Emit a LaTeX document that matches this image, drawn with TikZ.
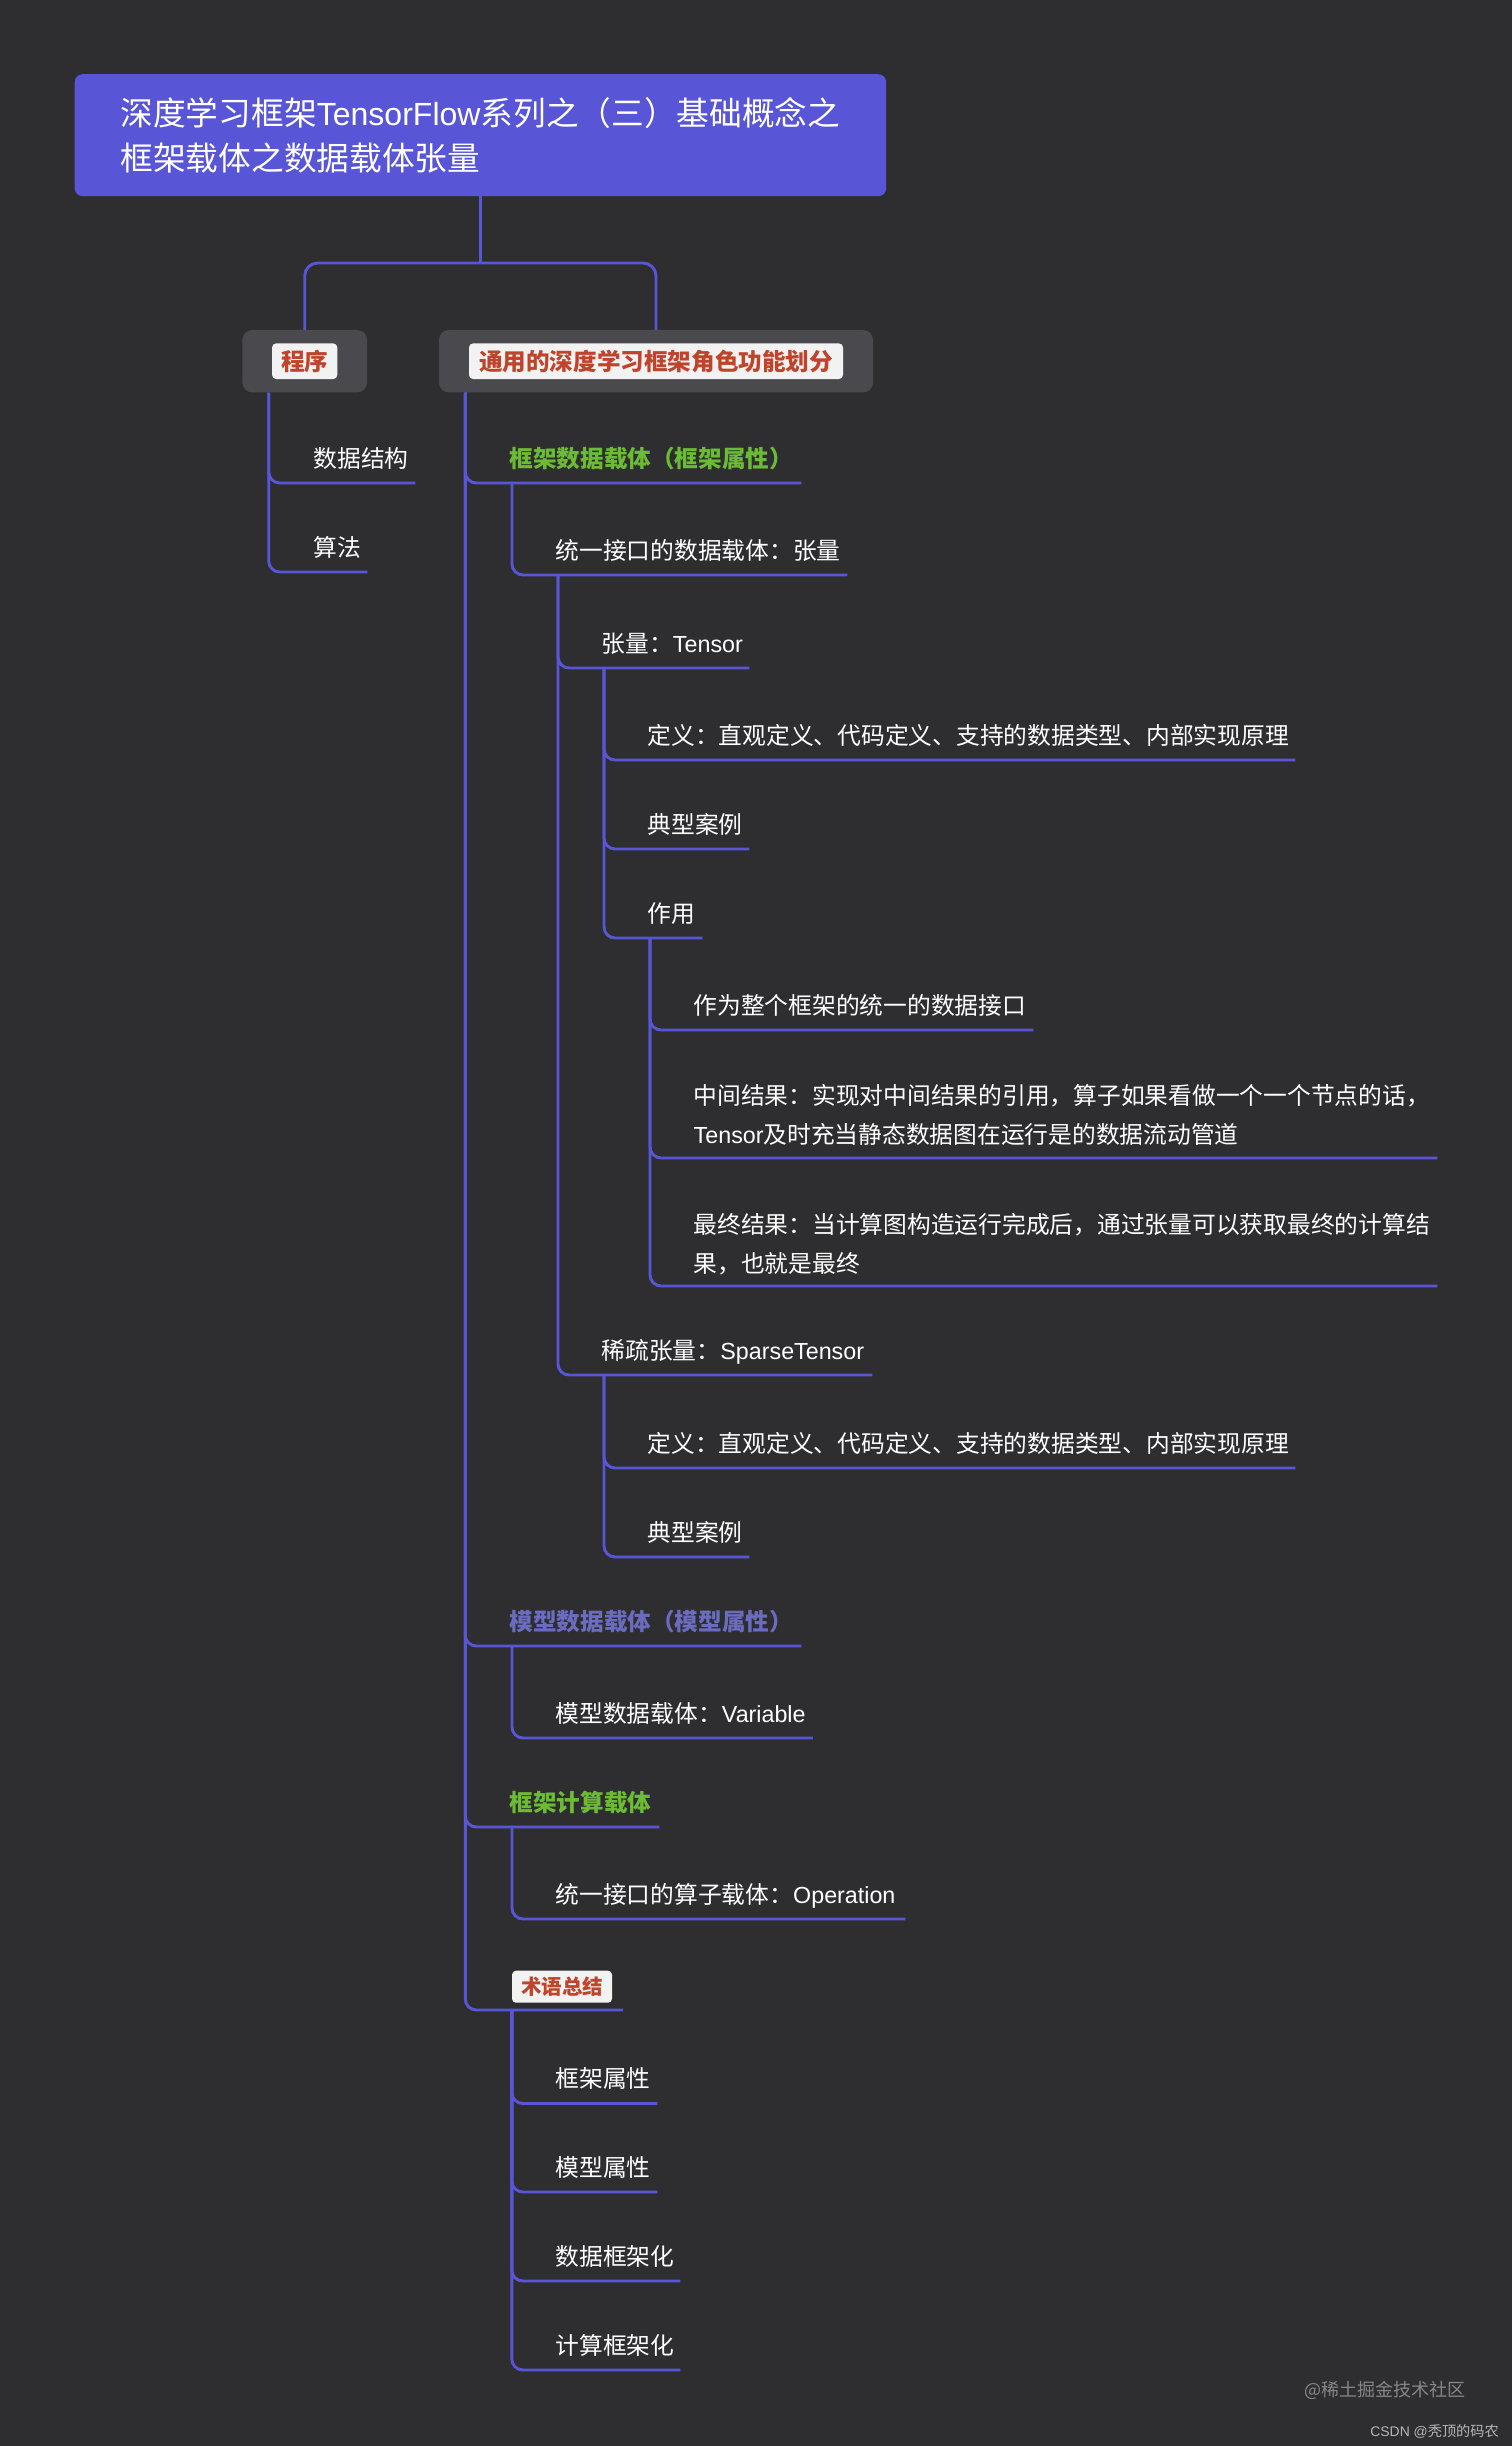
\documentclass[tikz,border=0pt]{standalone}
\usepackage{fontspec}
\setmainfont{Noto Sans CJK SC}
\newfontfamily\latinfont[Scale=0.98]{Liberation Sans}
\newcommand{\lat}[1]{{\latinfont #1}}
\definecolor{mapbg}{HTML}{2E2E30}
\definecolor{mapblue}{HTML}{5856D6}
\definecolor{mapgrey}{HTML}{4A4A4E}
\definecolor{mapred}{HTML}{C0432B}
\definecolor{mapgreen}{HTML}{6CBB35}
\definecolor{mappurple}{HTML}{6B6BC0}
\definecolor{maptag}{HTML}{F2F2F2}

\begin{document}
\begin{tikzpicture}[x=1pt,y=1pt,%
      branch/.style={draw=mapblue,line width=2.9pt,rounded corners=11pt},
      item/.style={anchor=south west,inner xsep=0pt,inner ysep=0pt,align=left,
        text=white,text height=20.8pt,text depth=2.8pt,minimum height=49pt,
        font=\fontsize{23.75}{38.5}\selectfont},
      twolines/.style={item,text height=,text depth=,text width=743.5pt},
      title/.style={anchor=north west,fill=mapblue,rounded corners=8pt,align=left,
        text=white,inner xsep=43pt,minimum width=811.5pt,minimum height=122pt,
        font=\fontsize{32.7}{44.5}\selectfont},
      topic/.style={fill=mapgrey,rounded corners=10pt,minimum height=62.5pt},
      tag/.style={fill=maptag,rounded corners=4pt,text=mapred,inner xsep=10pt,
        inner ysep=0pt,minimum height=35.6pt,font=\fontsize{23.6}{28}\selectfont\bfseries},
      sitemark/.style={anchor=east,inner sep=0pt}]
    \useasboundingbox (0,0) rectangle (1512,-2446);
    \fill[mapbg] (0,0) rectangle (1512,-2446);

    \node[title] (root) at (74.5,-74) {深度学习框架\lat{TensorFlow}系列之（三）基础概念之\\框架载体之数据载体张量};

    \node[topic,minimum width=124.6pt] (prog) at (304.7,-361.2) {};
    \node[tag,inner xsep=9pt] (progtag) at (prog.center) {程序};
    \node[topic,minimum width=434pt] (role) at (656,-361.2) {};
    \node[tag] (roletag) at (role.center) {通用的深度学习框架角色功能划分};

    \node[item,text width=101.5pt] (struct) at (313.5,-483) {数据结构};
    \node[item,text width=53.5pt] (algo) at (313.5,-572) {算法};

    \node[item,text width=291.5pt,text=mapgreen,font=\fontsize{23.6}{28}\selectfont\bfseries] (frame) at (509.5,-483) {框架数据载体（框架属性）};
    \node[item,text width=291.5pt] (unified) at (555.5,-575) {统一接口的数据载体：张量};
    \node[item,text width=147.5pt] (tensor) at (601.5,-668) {张量：\lat{Tensor}};
    \node[item,text width=647.5pt] (tdef) at (647.5,-760) {定义：直观定义、代码定义、支持的数据类型、内部实现原理};
    \node[item,text width=101.5pt] (tcase) at (647.5,-849) {典型案例};
    \node[item,text width=54.5pt] (tuse) at (647.5,-938) {作用};
    \node[item,text width=339.5pt] (iface) at (693.5,-1030) {作为整个框架的统一的数据接口};
    \node[twolines,minimum height=86pt] (middle) at (693.5,-1158) {中间结果：实现对中间结果的引用，算子如果看做一个一个节点的话，\\\lat{Tensor}及时充当静态数据图在运行是的数据流动管道};
    \node[twolines,minimum height=83pt] (final) at (693.5,-1286) {最终结果：当计算图构造运行完成后，通过张量可以获取最终的计算结\\果，也就是最终};
    \node[item,text width=270.5pt] (sparse) at (601.5,-1375) {稀疏张量：\lat{SparseTensor}};
    \node[item,text width=647.5pt] (sdef) at (647.5,-1468) {定义：直观定义、代码定义、支持的数据类型、内部实现原理};
    \node[item,text width=101.5pt] (scase) at (647.5,-1557) {典型案例};

    \node[item,text width=291.5pt,text=mappurple,font=\fontsize{23.6}{28}\selectfont\bfseries] (model) at (509.5,-1646) {模型数据载体（模型属性）};
    \node[item,text width=257pt] (variable) at (555.5,-1738) {模型数据载体：\lat{Variable}};
    \node[item,text width=149.5pt,text=mapgreen,font=\fontsize{23.6}{28}\selectfont\bfseries] (compute) at (509.5,-1827) {框架计算载体};
    \node[item,text width=349.5pt] (operation) at (555.5,-1919) {统一接口的算子载体：\lat{Operation}};

    \node[tag,inner xsep=9pt,minimum height=32pt,font=\fontsize{20.5}{24}\selectfont\bfseries] (terms) at (562,-1986.7) {术语总结};
    \coordinate (termsend) at (623,-2010);
    \coordinate (termsleft) at (terms.south west |- termsend);
    \node[item,text width=101.5pt] (fattr) at (555.5,-2103.5) {框架属性};
    \node[item,text width=101.5pt] (mattr) at (555.5,-2192) {模型属性};
    \node[item,text width=124.5pt] (dframe) at (555.5,-2281) {数据框架化};
    \node[item,text width=124.5pt] (cframe) at (555.5,-2370) {计算框架化};

    \node[sitemark,text=white!42!mapbg,font=\fontsize{18}{22}\selectfont] (juejin) at (1466,-2390.7) {@稀土掘金技术社区};
    \node[sitemark,text=white!65!mapbg,font=\fontsize{14.2}{18}\selectfont] (csdn) at (1499,-2431.7) {\lat{CSDN @}秃顶的码农};

    \coordinate (split) at (root.south |- 0,-263);
    \draw[branch] (root.south) -- (split);
    \draw[branch,rounded corners=13pt] (split) -| (prog.north);
    \draw[branch,rounded corners=13pt] (split) -| (role.north);

    \foreach \from/\to in {prog/struct,prog/algo,role/frame,role/model,role/compute}
      \draw[branch] ([xshift=26.5pt]\from.south west) |- (\to.south east);
    \draw[branch] ([xshift=26.5pt]role.south west) |- (termsend);

    \foreach \from/\to in {frame/unified,unified/tensor,unified/sparse,tensor/tdef,tensor/tcase,tensor/tuse,
        tuse/iface,tuse/middle,tuse/final,sparse/sdef,sparse/scase,model/variable,compute/operation}
      \draw[branch] ([xshift=2.5pt]\from.south west) |- (\to.south east);

    \foreach \to in {fattr,mattr,dframe,cframe}
      \draw[branch] (termsleft) |- (\to.south east);
  \end{tikzpicture}
\end{document}
